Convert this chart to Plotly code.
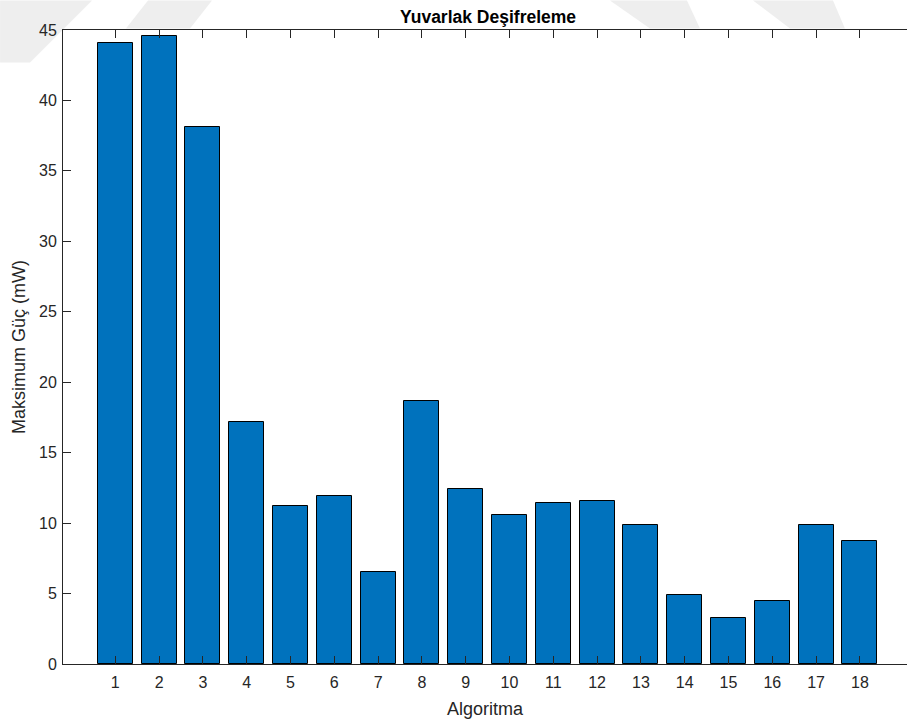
import plotly.graph_objects as go

algorithms = list(range(1, 19))
max_power_mw = [44.1, 44.6, 38.1, 17.2, 11.2, 11.9, 6.5, 18.7, 12.4,
                10.6, 11.4, 11.6, 9.9, 4.9, 3.3, 4.5, 9.9, 8.7]
y_ticks = [0, 5, 10, 15, 20, 25, 30, 35, 40, 45]

title_text = "Yuvarlak Deşifreleme"
x_title = "Algoritma"
y_title = "Maksimum Güç (mW)"

font_family = "Liberation Sans, Arial, Helvetica, sans-serif"
axis_color = "#262626"

W, H = 907, 724
L, R, T, B = 63, 0, 29.5, 59.7
PW, PH = W - L - R, H - T - B


def to_paper(px, py):
    return (px - L) / PW, (H - B - py) / PH


# faint background watermark bands (pixel polygons, drawn only outside the plot area)
watermark_polys = [
    [(0, 0), (92, 0), (30, 62), (0, 62)],
    [(148, 0), (212, 0), (190, 28), (126, 28)],
    [(610, 0), (687, 0), (700, 28), (650, 28)],
    [(753, 0), (833, 0), (845, 28), (790, 28)],
]

shapes = []
for poly in watermark_polys:
    pts = [to_paper(x, y) for x, y in poly]
    path = "M " + " L ".join(f"{x:.4f},{y:.4f}" for x, y in pts) + " Z"
    shapes.append(dict(type="path", xref="paper", yref="paper", path=path,
                       fillcolor="#eeeeee", line=dict(width=0), layer="below"))

fig = go.Figure(
    go.Bar(
        x=algorithms,
        y=max_power_mw,
        width=0.8,
        marker=dict(color="#0072BD", line=dict(color="#000000", width=1)),
        hoverinfo="x+y",
    )
)

fig.update_layout(
    width=W,
    height=H,
    margin=dict(l=L, r=R, t=T, b=B),
    paper_bgcolor="white",
    plot_bgcolor="white",
    showlegend=False,
    font=dict(family=font_family, color=axis_color, size=16),
    bargap=0,
    shapes=shapes,
    annotations=[
        dict(text="<b>" + title_text + "</b>", x=9.5, xref="x", y=1, yref="paper",
             yanchor="bottom", yshift=1, xanchor="center", showarrow=False,
             font=dict(size=17.5, color="#000000", family=font_family)),
    ],
)

fig.update_xaxes(
    range=[-0.194, 19.076],
    tickmode="array",
    tickvals=algorithms,
    ticktext=[str(a) for a in algorithms],
    ticks="inside",
    ticklen=8,
    tickwidth=1,
    tickcolor=axis_color,
    showline=True,
    linecolor=axis_color,
    linewidth=1,
    mirror="ticks",
    showgrid=False,
    zeroline=False,
    tickfont=dict(size=16, color=axis_color),
    ticklabelstandoff=4,
    title=dict(text=x_title, font=dict(size=18, color=axis_color), standoff=12),
)

fig.update_yaxes(
    range=[0, 45],
    tickmode="array",
    tickvals=y_ticks,
    ticktext=[str(v) for v in y_ticks],
    ticks="inside",
    ticklen=8,
    tickwidth=1,
    tickcolor=axis_color,
    showline=True,
    linecolor=axis_color,
    linewidth=1,
    showgrid=False,
    zeroline=False,
    tickfont=dict(size=16, color=axis_color),
    ticklabelstandoff=2,
    title=dict(text=y_title, font=dict(size=18, color=axis_color), standoff=8),
)

fig.write_html(
    "out.html",
    config={"displayModeBar": False},
    post_script="document.body.style.margin='0';document.body.style.overflow='hidden';",
)
